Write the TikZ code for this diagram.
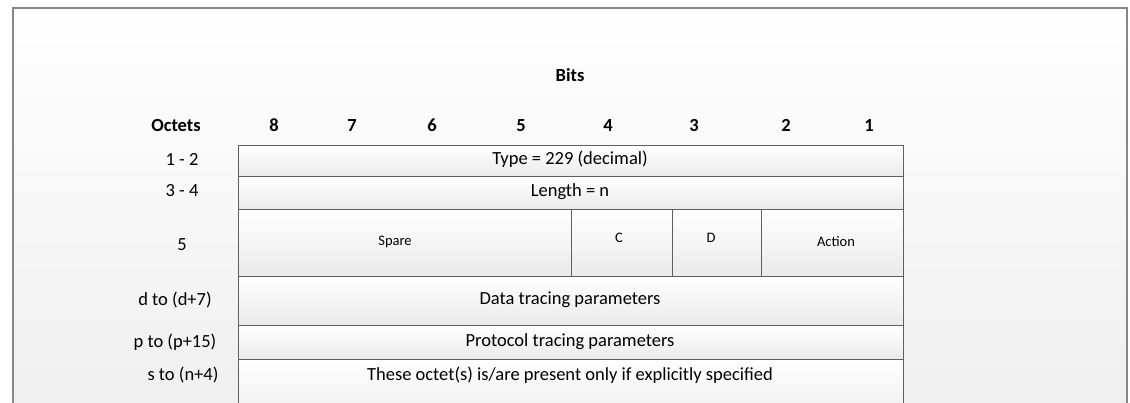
\documentclass[tikz,border=0pt]{standalone}
\usepackage{fontspec}
\setmainfont{Carlito}
\usetikzlibrary{positioning}
\definecolor{framegray}{RGB}{135,135,135}
\definecolor{linegray}{RGB}{95,95,95}
\definecolor{cellbot}{RGB}{234,234,234}
\definecolor{pagebot}{RGB}{238,238,238}

\begin{document}
\begin{tikzpicture}[x=1pt, y=-1pt,
    cell/.style={draw=linegray, line width=1.4pt, top color=white, bottom color=cellbot, inner sep=0pt, anchor=north west},
    hdr/.style={font=\fontsize{18.5}{22}\selectfont\bfseries, inner sep=0pt, anchor=base},
    lbl/.style={font=\fontsize{18.5}{22}\selectfont, inner sep=0pt},
    sml/.style={font=\fontsize{14.5}{17}\selectfont, inner sep=0pt},
]
    \useasboundingbox (0,0) rectangle (1130,402);
    \clip (0,0) rectangle (1130,402);
    \fill[white] (0,0) rectangle (1130,402);
    \shade[top color=white, bottom color=pagebot, draw=framegray, line width=1.4pt] (13,8) rectangle (1127,430);

    % headings
    \node[hdr] (bits) at (570,81) {Bits};
    \node[hdr] (octets) at (176,131) {Octets};
    \foreach \b/\x in {8/274, 7/352, 6/432, 5/521, 4/608, 3/694, 2/786, 1/869}
        \node[hdr] (bit\b) at (\x,131) {\b};

    % rows
    \node[cell, minimum width=665pt, minimum height=31pt] (type) at (238,145) {};
    \node[cell, minimum width=665pt, minimum height=33pt] (len) at (238,176) {};
    \node[cell, minimum width=333pt, minimum height=67pt] (spare) at (238,209) {};
    \node[cell, minimum width=101pt, minimum height=67pt] (cbit) at (571,209) {};
    \node[cell, minimum width=89pt, minimum height=67pt] (dbit) at (672,209) {};
    \node[cell, minimum width=142pt, minimum height=67pt] (action) at (761,209) {};
    \node[cell, minimum width=665pt, minimum height=49pt] (data) at (238,276) {};
    \node[cell, minimum width=665pt, minimum height=34pt] (proto) at (238,325) {};
    \node[cell, minimum width=665pt, minimum height=70pt] (extra) at (238,359) {};

    % cell texts
    \node[lbl] at (570,159) {Type = 229 (decimal)};
    \node[lbl] at (570,192) {Length = n};
    \node[sml] at (395,242) {Spare};
    \node[sml] at (619,238) {C};
    \node[sml] at (711,238) {D};
    \node[sml] at (836,242) {Action};
    \node[lbl] at (570,300) {Data tracing parameters};
    \node[lbl] at (570,342) {Protocol tracing parameters};
    \node[lbl] at (570,375) {These octet(s) is/are present only if explicitly specified};

    % octet labels
    \node[lbl] (o12) at (182,159) {1 - 2};
    \node[lbl] (o34) at (182,191) {3 - 4};
    \node[lbl] (o5) at (182,245) {5};
    \node[lbl] (od) at (175,300) {d to (d+7)};
    \node[lbl] (op) at (175,342) {p to (p+15)};
    \node[lbl] (os) at (183,375) {s to (n+4)};
\end{tikzpicture}
\end{document}
